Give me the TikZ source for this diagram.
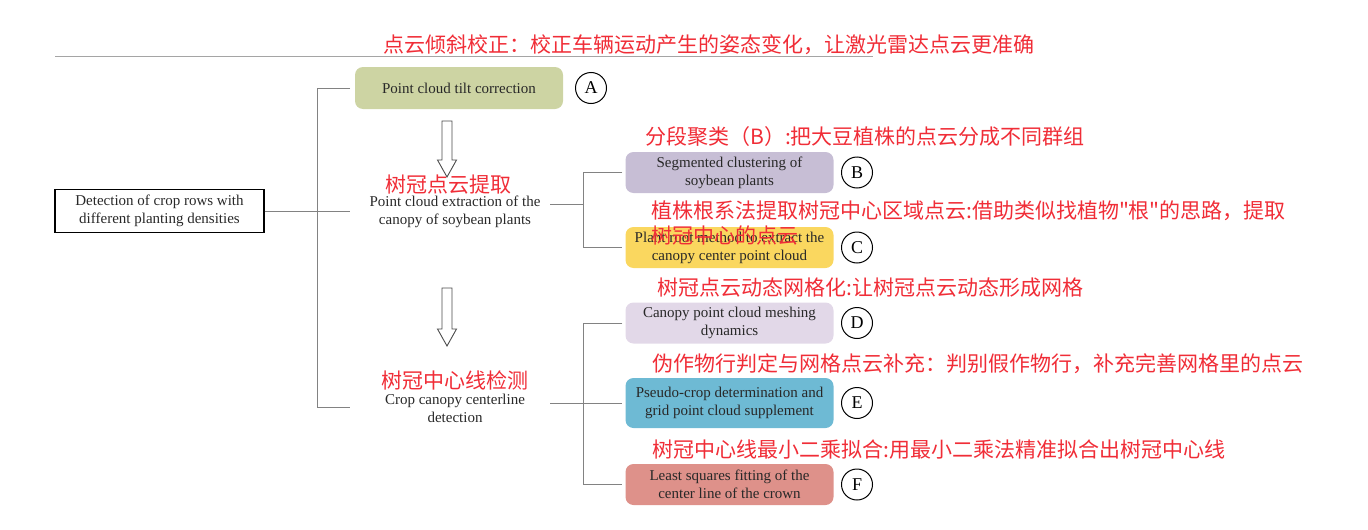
\documentclass[tikz,border=0pt]{standalone}
\usepackage{fontspec}
\setmainfont{Liberation Serif}
\newfontfamily\cjk{Noto Sans CJK SC}
\definecolor{cA}{RGB}{205,212,163}
\definecolor{cB}{RGB}{199,190,213}
\definecolor{cC}{RGB}{250,215,95}
\definecolor{cD}{RGB}{226,216,232}
\definecolor{cE}{RGB}{110,186,212}
\definecolor{cF}{RGB}{222,145,138}
\definecolor{txt}{RGB}{40,40,40}
\definecolor{notered}{RGB}{240,45,55}
\definecolor{linegray}{RGB}{130,130,130}
\definecolor{topgray}{RGB}{165,165,165}
\begin{document}
\begin{tikzpicture}[x=1pt,y=-1pt,
  box/.style={rounded corners=8pt, minimum width=208pt, minimum height=41pt, inner sep=0pt, align=center, font=\fontsize{15}{18}\selectfont, text=txt},
  lbl/.style={circle, draw=black, line width=1pt, minimum size=31pt, inner sep=0pt, font=\fontsize{18}{20}\selectfont},
  note/.style={anchor=west, inner sep=0pt, text=notered, font=\cjk\fontsize{21}{25}\selectfont},
  conn/.style={draw=linegray, line width=0.8pt},
  plain/.style={align=center, inner sep=0pt, font=\fontsize{15}{18}\selectfont, text=txt},
  blockarrow/.style={draw=black!70, line width=0.9pt, fill=white}
]
\useasboundingbox (0,0) rectangle (1368,530);

% top rule
\coordinate (tl1) at (55,56);
\coordinate (tl2) at (873,56);
\draw[draw=topgray, line width=1pt] (tl1) -- (tl2);

% main box
\node[draw=black, line width=1.2pt, minimum width=209pt, minimum height=43pt, plain] (main) at (159.5,211) {Detection of crop rows with\\different planting densities};

% level 1
\node[box, fill=cA, minimum height=42pt] (A) at (459,88) {Point cloud tilt correction};
\node[lbl] (lA) at (591,88) {A};
\node[plain] (ext) at (455,212) {Point cloud extraction of the\\canopy of soybean plants};
\node[plain] (det) at (455,408) {Crop canopy centerline\\detection};

% level 2
\node[box, fill=cB] (B) at (729.5,172.5) {Segmented clustering of\\soybean plants};
\node[lbl] (lB) at (857,172.5) {B};
\node[box, fill=cC] (C) at (729.5,247.5) {Plant root method to extract the\\canopy center point cloud};
\node[lbl] (lC) at (857,247.5) {C};
\node[box, fill=cD] (D) at (729.5,323) {Canopy point cloud meshing\\dynamics};
\node[lbl] (lD) at (857,323) {D};
\node[box, fill=cE, minimum height=50pt] (E) at (729.5,403) {Pseudo-crop determination and\\grid point cloud supplement};
\node[lbl] (lE) at (857,403) {E};
\node[box, fill=cF] (F) at (729.5,484.5) {Least squares fitting of the\\center line of the crown};
\node[lbl] (lF) at (857,484.5) {F};

% left bracket
\coordinate (lbA) at (350,88);
\coordinate (lbM) at (350,211);
\coordinate (lbE) at (350,407);
\draw[conn] (lbA) -- ++(-33,0) |- (lbE);
\draw[conn] (main.east) -- (lbM);

% right bracket 1
\coordinate (rb1) at (550,204);
\draw[conn] (rb1) -- ++(33,0);
\draw[conn] ([xshift=-3pt]B.west) -- ++(-39,0) |- ([xshift=-3pt]C.west);

% right bracket 2
\coordinate (rb2) at (550,403);
\draw[conn] (rb2) -- ([xshift=-3pt]E.west);
\draw[conn] ([xshift=-3pt]D.west) -- ++(-39,0) |- ([xshift=-3pt]F.west);

% hollow arrows
\coordinate (ar1) at (447,121);
\draw[blockarrow] (ar1) ++(-5,0) -- ++(10,0) -- ++(0,39) -- ++(4.5,0) -- ++(-9.5,17) -- ++(-9.5,-17) -- ++(4.5,0) -- cycle;
\coordinate (ar2) at (447,288);
\draw[blockarrow] (ar2) ++(-5,0) -- ++(10,0) -- ++(0,41) -- ++(4.5,0) -- ++(-9.5,17) -- ++(-9.5,-17) -- ++(4.5,0) -- cycle;

% red notes
\node[note] (n0) at (383,45) {点云倾斜校正：校正车辆运动产生的姿态变化，让激光雷达点云更准确};
\node[note, anchor=center] (n1) at (448,185) {树冠点云提取};
\node[note] (nB) at (645,137) {分段聚类（B）:把大豆植株的点云分成不同群组};
\node[note] (nC1) at (651,211) {植株根系法提取树冠中心区域点云:借助类似找植物"根"的思路，提取};
\node[note] (nC2) at (651,236) {树冠中心的点云};
\node[note] (nD) at (657,288) {树冠点云动态网格化:让树冠点云动态形成网格};
\node[note] (nE) at (652,364) {伪作物行判定与网格点云补充：判别假作物行，补充完善网格里的点云};
\node[note, anchor=center] (n2) at (455,380) {树冠中心线检测};
\node[note] (nF) at (652,450) {树冠中心线最小二乘拟合:用最小二乘法精准拟合出树冠中心线};
\end{tikzpicture}
\end{document}
